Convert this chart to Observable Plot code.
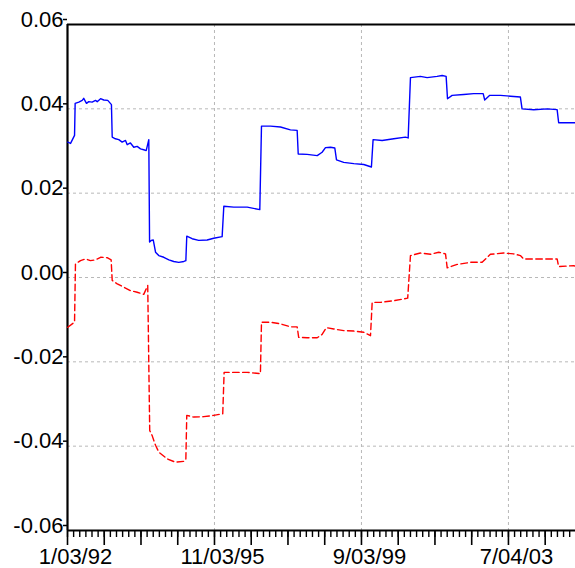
<!DOCTYPE html>
<html><head><meta charset="utf-8">
<script src="https://cdn.jsdelivr.net/npm/d3@7"></script>
<script src="https://cdn.jsdelivr.net/npm/@observablehq/plot@0.6"></script>
<style>body{margin:0;background:#fff;}</style>
</head><body><div id="chart"></div>
<script>
const blueObs = [2,20,46,50,74,96,106,124,139,161,183,194,216,237,263,287,292,313,335,357,379,390,411,433,455,477,498,514,531,536,547,560,575,596,629,662,694,727,760,773,779,814,857,912,955,1010,1021,1086,1174,1256,1267,1326,1391,1456,1500,1507,1565,1631,1663,1685,1718,1746,1757,1804,1870,1935,1985,1996,2055,2131,2207,2225,2240,2305,2349,2414,2447,2473,2482,2512,2588,2653,2715,2725,2758,2828,2893,2958,2969,3045,3133,3198,3208,3318];
const blueVal = [0.0321,0.0318,0.0337,0.0413,0.0416,0.0420,0.0425,0.0413,0.0417,0.0416,0.0420,0.0417,0.0424,0.0421,0.0420,0.0410,0.0333,0.0329,0.0327,0.0321,0.0325,0.0315,0.0319,0.0309,0.0311,0.0305,0.0303,0.0301,0.0327,0.0084,0.0088,0.0089,0.0060,0.0052,0.0048,0.0042,0.0038,0.0036,0.0038,0.0040,0.0098,0.0092,0.0088,0.0089,0.0093,0.0097,0.0169,0.0167,0.0167,0.0161,0.0359,0.0359,0.0357,0.0350,0.0349,0.0293,0.0292,0.0289,0.0297,0.0308,0.0309,0.0307,0.0279,0.0273,0.0270,0.0268,0.0262,0.0327,0.0325,0.0329,0.0333,0.0331,0.0474,0.0477,0.0474,0.0477,0.0479,0.0477,0.0424,0.0432,0.0434,0.0436,0.0436,0.0421,0.0432,0.0432,0.0430,0.0428,0.0400,0.0398,0.0400,0.0398,0.0367,0.0367];
const redObs = [2,31,46,52,85,118,150,183,216,259,285,292,325,368,411,455,498,524,537,553,575,596,651,705,760,773,779,825,890,955,1014,1023,1086,1174,1260,1267,1326,1391,1456,1500,1510,1565,1631,1663,1691,1739,1804,1870,1935,1979,1990,2044,2131,2222,2240,2305,2371,2425,2469,2480,2545,2632,2708,2762,2849,2914,2958,2980,3067,3198,3208,3306,3318];
const redVal = [-0.0118,-0.0110,-0.0106,0.0032,0.0040,0.0044,0.0040,0.0042,0.0048,0.0047,0.0042,-0.0007,-0.0015,-0.0023,-0.0031,-0.0035,-0.0040,-0.0019,-0.0363,-0.0375,-0.0398,-0.0414,-0.0430,-0.0438,-0.0436,-0.0432,-0.0327,-0.0331,-0.0330,-0.0327,-0.0323,-0.0225,-0.0225,-0.0225,-0.0228,-0.0106,-0.0106,-0.0110,-0.0117,-0.0117,-0.0142,-0.0143,-0.0143,-0.0135,-0.0119,-0.0122,-0.0126,-0.0127,-0.0130,-0.0138,-0.0059,-0.0059,-0.0055,-0.0049,0.0052,0.0058,0.0055,0.0060,0.0056,0.0023,0.0031,0.0036,0.0036,0.0055,0.0058,0.0056,0.0052,0.0044,0.0044,0.0044,0.0026,0.0028,0.0027];
const dateTickObs = [0, 960, 1920, 2880];
const dateTickLabels = ["1/03/92", "11/03/95", "9/03/99", "7/04/03"];
const yTicks = [-0.06, -0.04, -0.02, 0, 0.02, 0.04, 0.06];
const yGrid = [-0.04, -0.02, 0, 0.02, 0.04];
const xMax = 3318, minorStep = 40, mediumStep = 240;

const blue = blueObs.map((o, i) => ({obs: o, val: blueVal[i]}));
const red = redObs.map((o, i) => ({obs: o, val: redVal[i]}));

const plot = Plot.plot({
  width: 575, height: 568,
  marginLeft: 67, marginRight: 0, marginTop: 24, marginBottom: 38,
  style: {fontFamily: "'Liberation Sans', Arial, sans-serif", background: "white", color: "black"},
  x: {domain: [0, xMax], label: null},
  y: {domain: [-0.06, 0.06], label: null},
  marks: [
    Plot.gridY(yGrid, {stroke: "#b8b8b8", strokeOpacity: 1, strokeDasharray: "3,3"}),
    Plot.gridX(dateTickObs.slice(1), {stroke: "#b8b8b8", strokeOpacity: 1, strokeDasharray: "3,3"}),
    Plot.axisY(yTicks, {tickSize: 4, tickPadding: 0, strokeWidth: 1.5, tickFormat: d => d.toFixed(2), fontSize: 22, dy: -5}),
    Plot.axisX(d3.range(0, xMax, minorStep), {tickSize: 7, strokeWidth: 1.4, tickFormat: () => ""}),
    Plot.axisX(d3.range(0, xMax, mediumStep), {tickSize: 15, strokeWidth: 1.6, tickFormat: () => ""}),
    Plot.axisX(dateTickObs, {tickSize: 0, tickPadding: 18, dx: 8, fontSize: 22, tickFormat: d => dateTickLabels[dateTickObs.indexOf(d)]}),
    Plot.ruleX([0], {strokeWidth: 2.2}),
    Plot.ruleY([-0.06, 0.06], {strokeWidth: 2.2}),
    Plot.line(blue, {x: "obs", y: "val", stroke: "#0000ff", strokeWidth: 1.4}),
    Plot.line(red, {x: "obs", y: "val", stroke: "#ff0000", strokeWidth: 1.4, strokeDasharray: "6.5,3.5"})
  ]
});
document.getElementById("chart").appendChild(plot);
</script>
</body></html>
